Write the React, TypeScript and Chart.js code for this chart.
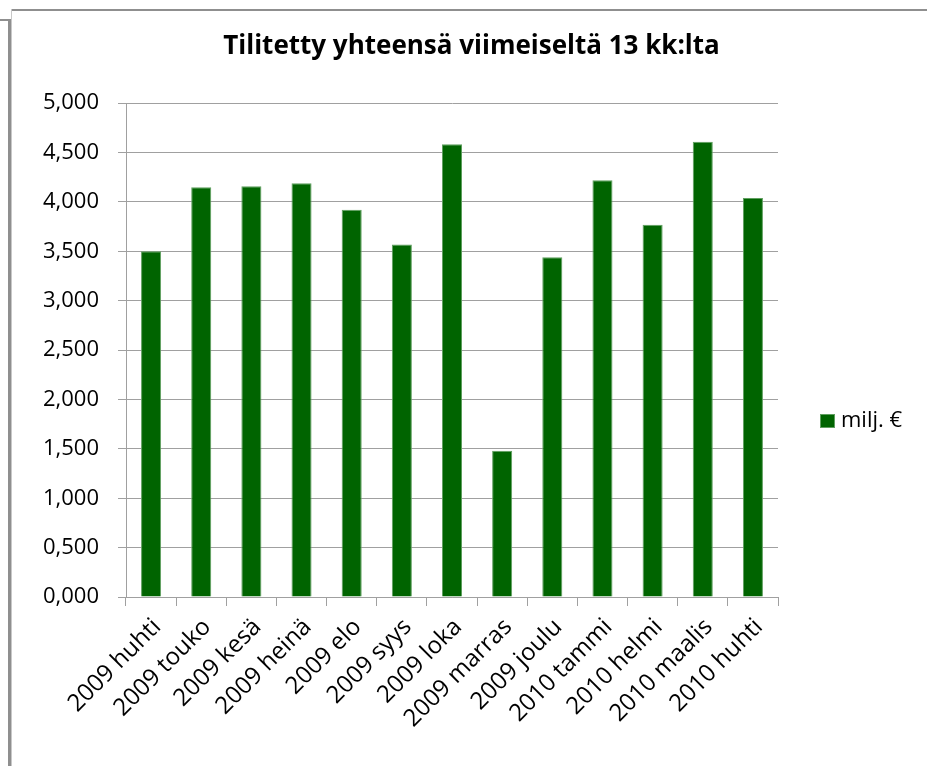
import React, { useEffect, useRef } from "react";
import { Chart, registerables } from "chart.js";

Chart.register(...registerables);

const categories = [
  "2009 huhti",
  "2009 touko",
  "2009 kesä",
  "2009 heinä",
  "2009 elo",
  "2009 syys",
  "2009 loka",
  "2009 marras",
  "2009 joulu",
  "2010 tammi",
  "2010 helmi",
  "2010 maalis",
  "2010 huhti",
];

const seriesLabel = "milj. €";
const seriesValues = [3.5, 4.15, 4.16, 4.19, 3.92, 3.57, 4.585, 1.48, 3.44, 4.22, 3.77, 4.61, 4.04];

const titleText = "Tilitetty yhteensä viimeiseltä 13 kk:lta";
const yMin = 0;
const yMax = 5;
const yStep = 0.5;

const FONT = "'Open Sans', 'Noto Sans', sans-serif";
const BAR_COLOR = "#006400";
const BAR_EDGE = "#5f9f5f";
const GRID = "#a0a0a0";
const TICK_SIZE = 22;
const XTICK_SIZE = 24;

const legendPlugin = {
  id: "rightLegend",
  afterDraw(chart: any) {
    const ctx = chart.ctx;
    const ds = chart.data.datasets[0];
    ctx.save();
    const bx = 820;
    const by = 414;
    ctx.fillStyle = ds.backgroundColor;
    ctx.fillRect(bx, by, 15, 14);
    ctx.strokeStyle = BAR_EDGE;
    ctx.lineWidth = 1;
    ctx.strokeRect(bx + 0.5, by + 0.5, 14, 13);
    ctx.fillStyle = "#000";
    ctx.font = `${TICK_SIZE}px ${FONT}`;
    ctx.textBaseline = "middle";
    ctx.textAlign = "left";
    ctx.fillText(ds.label, 841, by + 7);
    ctx.restore();
  },
};

export default function App() {
  const ref = useRef<HTMLCanvasElement | null>(null);

  useEffect(() => {
    if (!ref.current) return;
    const chart = new Chart(ref.current, {
      type: "bar",
      data: {
        labels: categories,
        datasets: [
          {
            label: seriesLabel,
            data: seriesValues,
            backgroundColor: BAR_COLOR,
            borderColor: BAR_EDGE,
            borderWidth: 1,
            barPercentage: 0.4,
            categoryPercentage: 1.0,
          },
        ],
      },
      options: {
        animation: false,
        responsive: false,
        maintainAspectRatio: false,
        layout: { padding: { left: 16, right: 0, top: 0, bottom: 0 } },
        plugins: {
          legend: { display: false },
          tooltip: { enabled: false },
          title: {
            display: true,
            text: titleText,
            color: "#000",
            font: { family: FONT, size: 26, weight: "bold" },
            padding: { top: 31, bottom: 41 },
          },
        },
        scales: {
          x: {
            offset: true,
            grid: {
              display: true,
              drawOnChartArea: false,
              drawTicks: true,
              tickLength: 9,
              color: GRID,
              offset: true,
            },
            border: { display: true, color: GRID },
            ticks: {
              color: "#000",
              font: { family: FONT, size: XTICK_SIZE },
              minRotation: 45,
              maxRotation: 45,
              autoSkip: false,
              padding: 7,
              labelOffset: 6,
            },
            afterFit(scale: any) {
              scale.height = 766 - 597;
            },
          },
          y: {
            min: yMin,
            max: yMax,
            grid: {
              color: GRID,
              tickLength: 8,
              drawTicks: true,
            },
            border: { display: true, color: GRID },
            ticks: {
              stepSize: yStep,
              color: "#000",
              font: { family: FONT, size: TICK_SIZE },
              padding: 19,
              callback: (v: any) => Number(v).toFixed(3).replace(".", ","),
            },
            afterFit(scale: any) {
              scale.width = 126 - 16;
            },
          },
          ySpace: {
            type: "linear",
            position: "right",
            display: true,
            min: yMin,
            max: yMax,
            grid: { display: false, drawTicks: false },
            border: { display: false },
            ticks: { display: false },
            afterFit(scale: any) {
              scale.width = 927 - 778;
            },
          },
        },
      },
      plugins: [legendPlugin],
    });
    return () => chart.destroy();
  }, []);

  return (
    <div style={{ position: "fixed", left: 0, top: 0, width: 927, height: 766, background: "#fff", overflow: "hidden" }}>
      <canvas ref={ref} width={927} height={766} style={{ position: "absolute", left: 0, top: 0 }} />
      <div style={{ position: "absolute", left: 0, top: 19, width: 10, height: 2, background: "#8f8f8f" }} />
      <div style={{ position: "absolute", left: 8, top: 19, width: 3, height: 747, background: "#8f8f8f" }} />
      <div style={{ position: "absolute", left: 11, top: 9, width: 916, height: 2, background: "#8f8f8f" }} />
      <div style={{ position: "absolute", left: 11, top: 9, width: 1, height: 757, background: "#c8c8c8" }} />
    </div>
  );
}
